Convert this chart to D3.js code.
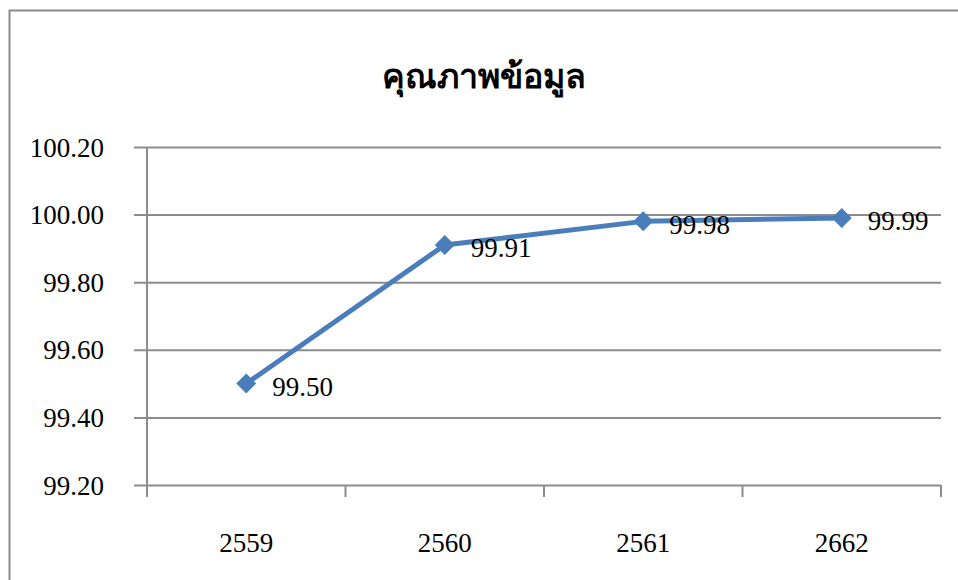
<!DOCTYPE html>
<html>
<head>
<meta charset="utf-8">
<script src="https://cdn.jsdelivr.net/npm/d3@7"></script>
<style>
  body { margin: 0; background: #fff; }
  text { font-family: "Liberation Serif", "Times New Roman", serif; }
</style>
</head>
<body>
<div id="chart"></div>
<script>
// chart data
var years = ["2559", "2560", "2561", "2662"];
var quality = [99.50, 99.91, 99.98, 99.99];
var yTicks = [99.20, 99.40, 99.60, 99.80, 100.00, 100.20];
var title = "คุณภาพข้อมูล";

var W = 958, H = 580;
var margin = { top: 147, right: 17, bottom: 95, left: 147 };
var width = W - margin.left - margin.right,
    height = H - margin.top - margin.bottom;

var svg = d3.select("#chart").append("svg")
    .attr("width", W)
    .attr("height", H);

// outer frame (runs off the right and bottom edges)
svg.append("rect")
    .attr("x", 9.5).attr("y", 10.5)
    .attr("width", W + 20).attr("height", H + 20)
    .attr("fill", "none")
    .attr("stroke", "#8a8a8a")
    .attr("stroke-width", 2);

svg.append("text")
    .attr("x", 484)
    .attr("y", 88)
    .attr("text-anchor", "middle")
    .style("font-size", "34px")
    .style("font-weight", "bold")
    .text(title);

var g = svg.append("g")
    .attr("transform", "translate(" + margin.left + "," + margin.top + ")");

var x = d3.scaleBand().domain(years).range([0, width]);
var y = d3.scaleLinear().domain([99.2, 100.2]).range([height, 0]);

// horizontal gridlines + outer ticks
var yAxis = g.append("g")
    .call(d3.axisLeft(y).tickValues(yTicks).tickFormat(d3.format(".2f"))
        .tickSize(-width).tickPadding(43));
yAxis.select(".domain").remove();
yAxis.selectAll(".tick line")
    .attr("x1", -13)
    .attr("stroke", "#8c8c8c")
    .attr("stroke-width", 2);
yAxis.selectAll(".tick text")
    .attr("fill", "#000")
    .style("font-size", "27px")
    .attr("dy", "0.34em");

// vertical axis line
g.append("line")
    .attr("x1", 0).attr("x2", 0)
    .attr("y1", 0).attr("y2", height + 12)
    .attr("stroke", "#8c8c8c")
    .attr("stroke-width", 2);

// x axis: ticks at band edges
var xAxis = g.append("g")
    .attr("transform", "translate(0," + height + ")")
    .call(d3.axisBottom(x).tickSize(0).tickPadding(48));
xAxis.select(".domain").remove();
xAxis.selectAll(".tick text")
    .attr("fill", "#000")
    .style("font-size", "27px");

var edges = years.map(function (d) { return x(d); }).concat([width]);
g.selectAll(".xtick")
    .data(edges)
    .enter().append("line")
    .attr("class", "xtick")
    .attr("x1", function (d) { return d; })
    .attr("x2", function (d) { return d; })
    .attr("y1", height)
    .attr("y2", height + 12)
    .attr("stroke", "#8c8c8c")
    .attr("stroke-width", 2);

var pts = years.map(function (d, i) { return { year: d, v: quality[i] }; });
var cx = function (d) { return x(d.year) + x.bandwidth() / 2; };

g.append("path")
    .datum(pts)
    .attr("fill", "none")
    .attr("stroke", "#4a7ebb")
    .attr("stroke-width", 5)
    .attr("stroke-linejoin", "round")
    .attr("d", d3.line().x(cx).y(function (d) { return y(d.v); }));

g.selectAll(".marker")
    .data(pts)
    .enter().append("path")
    .attr("class", "marker")
    .attr("transform", function (d) { return "translate(" + cx(d) + "," + y(d.v) + ")"; })
    .attr("d", "M0,-10L10,0L0,10L-10,0Z")
    .attr("fill", "#4a7ebb");

g.selectAll(".label")
    .data(pts)
    .enter().append("text")
    .attr("class", "label")
    .attr("x", function (d) { return cx(d) + 26; })
    .attr("y", function (d) { return y(d.v); })
    .attr("dy", "0.45em")
    .style("font-size", "27px")
    .text(function (d) { return d.v.toFixed(2); });
</script>
</body>
</html>
